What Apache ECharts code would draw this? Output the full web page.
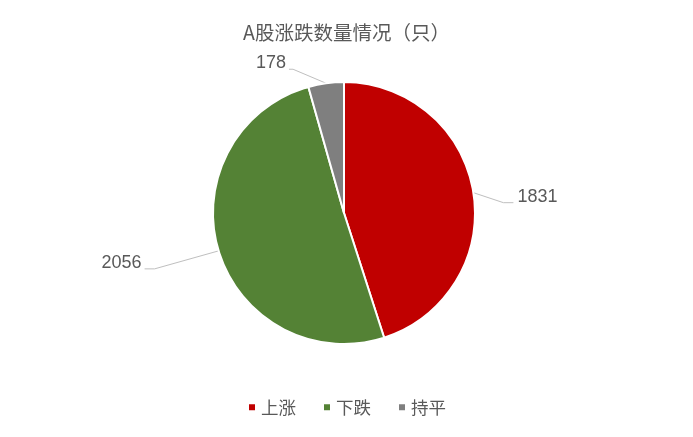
<!DOCTYPE html>
<html>
<head>
<meta charset="utf-8">
<script src="https://cdn.jsdelivr.net/npm/echarts@6/dist/echarts.min.js"></script>
<style>
html,body{margin:0;padding:0;background:#fff;}
#main{width:693px;height:437px;}
</style>
</head>
<body>
<div id="main"></div>
<script>
const categories = ['上涨', '下跌', '持平'];
const values = [1831, 2056, 178];
const colors = ['#C00000', '#548235', '#7F7F7F'];
const titleText = 'A股涨跌数量情况（只）';
// leader-line styling per slice: bend offset from the slice edge, then horizontal tail
const leaderBend = [[30, 10], [-64, 18], [-33, -14]];
const leaderTail = [10, -10, -4];

const chart = echarts.init(document.getElementById('main'));
chart.setOption({
  backgroundColor: '#ffffff',
  animation: false,
  title: {
    text: titleText,
    left: 'center',
    top: 18,
    textStyle: { color: '#595959', fontSize: 19.5, fontWeight: 'normal', fontFamily: 'Noto Sans CJK SC' }
  },
  legend: {
    bottom: 16,
    left: 'center',
    icon: 'rect',
    itemWidth: 8,
    itemHeight: 8,
    itemGap: 26,
    textStyle: { color: '#595959', fontSize: 17.5, fontFamily: 'Noto Sans CJK SC' },
    data: categories
  },
  series: [{
    type: 'pie',
    center: [344, 213],
    radius: 131,
    startAngle: 90,
    clockwise: true,
    avoidLabelOverlap: false,
    data: categories.map((c, i) => ({
      name: c,
      value: values[i],
      itemStyle: { color: colors[i] }
    })),
    itemStyle: { borderColor: '#ffffff', borderWidth: 2 },
    label: {
      formatter: '{c}',
      color: '#595959',
      fontSize: 18,
      fontFamily: 'Liberation Sans'
    },
    labelLine: {
      length: 20,
      length2: 10,
      lineStyle: { color: '#BFBFBF', width: 1 }
    },
    labelLayout: function (params) {
      const i = params.dataIndex;
      const pts = params.labelLinePoints;
      if (!pts) return {};
      const p0 = pts[0];
      const p1 = [p0[0] + leaderBend[i][0], p0[1] + leaderBend[i][1]];
      const p2 = [p1[0] + leaderTail[i], p1[1]];
      const right = leaderTail[i] > 0;
      return {
        x: p2[0] + (right ? 4 : -3),
        y: p2[1] - 6,
        align: right ? 'left' : 'right',
        verticalAlign: 'middle',
        labelLinePoints: [p0, p1, p2]
      };
    }
  }]
});
</script>
</body>
</html>
